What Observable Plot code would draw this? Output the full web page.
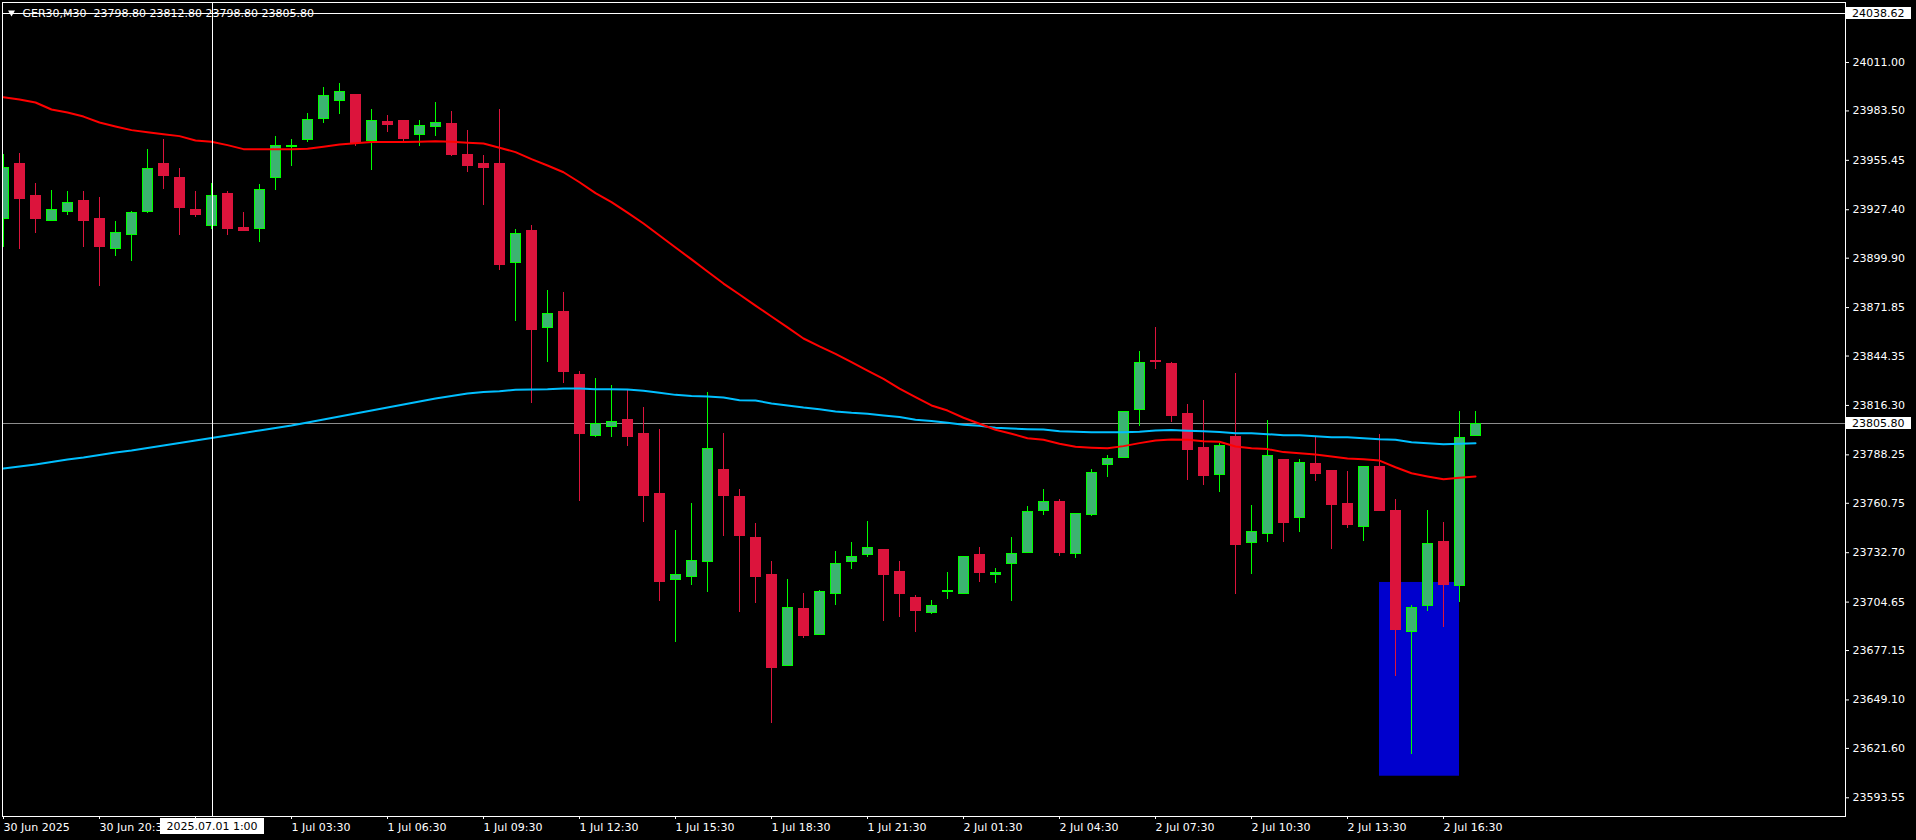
<!DOCTYPE html>
<html><head><meta charset="utf-8">
<script src="https://cdn.jsdelivr.net/npm/d3@7"></script>
<script src="https://cdn.jsdelivr.net/npm/@observablehq/plot@0.6"></script>
<style>html,body{margin:0;padding:0;background:#000;overflow:hidden}</style>
</head><body><div id="chart"></div>
<script>
const headerText = "GER30,M30\u00A0\u00A023798.80 23812.80 23798.80 23805.80";
const opens = [23922.1,23953.5,23935.3,23920.9,23926.0,23932.5,23922.4,23905.0,23913.2,23926.0,
23953.5,23945.5,23927.4,23918.1,23936.4,23917.1,23916.4,23945.3,23963.0,23966.9,
23978.8,23989.0,23992.8,23966.3,23977.0,23977.9,23969.7,23974.3,23975.8,23958.2,
23953.1,23953.1,23897.1,23915.6,23860.2,23869.6,23833.3,23798.9,23804.0,23808.1,
23800.2,23766.1,23717.3,23718.8,23727.3,23779.4,23764.6,23741.3,23720.3,23668.3,
23700.5,23685.9,23709.2,23727.3,23731.5,23734.3,23721.5,23706.7,23698.4,23710.3,
23709.3,23731.5,23719.9,23726.4,23732.6,23756.5,23761.2,23732.1,23754.2,23782.6,
23786.6,23813.8,23841.6,23839.9,23811.5,23791.9,23776.9,23798.1,23738.3,23743.4,
23785.6,23752.3,23782.8,23778.8,23760.6,23747.4,23781.6,23756.1,23687.6,23702.3,
23738.9,23713.7,23798.8];
const highs = [23958.8,23959.2,23942.1,23938.3,23937.8,23937.8,23934.4,23920.5,23926.2,23961.6,
23967.3,23950.6,23937.8,23942.1,23937.6,23925.7,23941.6,23969.0,23967.3,23982.1,
23996.8,23999.1,23992.8,23984.3,23980.9,23977.9,23977.9,23988.3,23983.2,23972.4,
23958.2,23984.3,23916.2,23918.5,23881.6,23880.4,23835.6,23831.6,23827.6,23824.8,
23815.1,23802.6,23745.3,23760.6,23823.6,23800.4,23768.6,23749.3,23727.7,23717.5,
23709.5,23711.2,23733.4,23738.5,23750.4,23734.3,23727.7,23708.6,23705.6,23721.5,
23730.3,23735.6,23723.7,23741.3,23759.0,23768.6,23762.9,23754.8,23779.9,23787.9,
23812.7,23846.9,23860.6,23840.7,23816.8,23819.1,23794.5,23834.4,23759.5,23807.8,
23785.6,23785.6,23798.9,23778.8,23778.8,23781.1,23799.8,23762.9,23702.7,23756.7,
23749.8,23812.9,23812.8];
const lows = [23906.2,23905.0,23914.1,23920.9,23924.3,23906.2,23884.0,23901.1,23898.2,23925.5,
23939.1,23913.0,23923.2,23916.4,23913.0,23915.3,23909.0,23938.5,23952.2,23965.8,
23976.6,23981.7,23963.3,23949.7,23971.5,23966.3,23963.5,23969.2,23957.8,23948.8,
23929.8,23892.9,23864.2,23817.2,23840.9,23828.9,23761.8,23798.3,23798.3,23793.0,
23750.0,23705.2,23681.9,23714.3,23710.3,23742.1,23698.9,23704.1,23635.9,23668.3,
23684.2,23685.9,23702.9,23723.3,23730.2,23693.8,23696.1,23687.6,23697.8,23706.3,
23709.3,23716.0,23715.4,23705.2,23732.6,23754.0,23730.7,23729.6,23753.4,23775.6,
23786.6,23804.5,23836.9,23806.8,23773.7,23771.0,23767.1,23709.2,23720.5,23738.7,
23738.7,23744.4,23773.3,23734.7,23746.6,23739.2,23756.3,23662.6,23618.3,23699.5,
23690.2,23704.6,23798.8];
const closes = [23951.2,23933.4,23922.1,23927.4,23931.3,23920.9,23906.2,23914.3,23925.6,23950.6,
23946.5,23928.3,23924.3,23935.3,23916.4,23915.3,23938.7,23963.7,23963.7,23978.5,
23992.1,23994.4,23965.2,23977.9,23975.4,23967.5,23975.0,23976.8,23958.2,23952.1,
23951.0,23895.8,23913.4,23859.1,23868.3,23835.2,23800.0,23805.5,23807.0,23798.1,
23764.8,23716.0,23720.1,23728.1,23791.7,23764.8,23742.1,23718.8,23667.1,23701.4,
23685.3,23710.5,23726.4,23730.4,23735.5,23720.0,23709.2,23699.5,23702.2,23710.7,
23730.3,23721.1,23721.3,23732.1,23755.9,23761.6,23732.4,23754.8,23778.1,23786.0,
23812.7,23840.5,23840.9,23810.2,23790.9,23776.1,23793.4,23737.0,23744.5,23787.7,
23749.5,23783.7,23777.3,23759.7,23748.3,23781.1,23756.3,23688.7,23701.4,23737.7,
23714.3,23797.9,23805.8];
const maRed = [23991.3,23990.0,23988.3,23984.3,23982.6,23980.3,23976.9,23974.7,23972.6,23971.4,
23970.3,23969.2,23966.7,23966.0,23964.1,23961.8,23961.8,23961.8,23961.8,23962.0,
23963.1,23964.4,23965.2,23965.8,23965.8,23965.8,23966.0,23966.3,23966.0,23965.4,
23965.0,23962.6,23960.1,23956.1,23952.5,23948.7,23943.0,23936.8,23931.7,23925.8,
23919.6,23912.8,23906.0,23899.2,23892.3,23885.5,23879.3,23873.0,23866.8,23860.6,
23854.3,23849.8,23845.6,23840.9,23836.1,23831.4,23825.9,23821.0,23816.3,23813.4,
23809.3,23805.9,23802.5,23800.2,23797.7,23796.8,23794.5,23792.8,23792.3,23792.0,
23793.2,23794.9,23796.4,23797.0,23796.8,23796.0,23795.7,23793.0,23792.0,23791.5,
23789.8,23789.2,23788.4,23787.3,23786.2,23785.8,23785.0,23781.2,23777.8,23776.0,
23774.4,23775.2,23776.0];
const maBlue = [23780.5,23781.6,23782.8,23784.2,23785.6,23786.7,23788.2,23789.6,23790.7,23792.1,
23793.6,23795.0,23796.4,23797.8,23799.2,23800.7,23802.1,23803.5,23804.9,23806.6,
23808.3,23810.0,23811.7,23813.4,23815.1,23816.8,23818.5,23820.2,23821.7,23823.1,
23823.9,23824.4,23825.2,23825.4,23825.5,23825.9,23825.9,23825.5,23825.5,23825.4,
23824.6,23823.5,23822.3,23821.6,23821.4,23820.8,23819.3,23819.1,23817.4,23816.3,
23815.1,23814.2,23812.9,23812.1,23811.6,23810.6,23809.7,23808.2,23807.4,23806.5,
23805.3,23804.7,23803.6,23803.2,23802.8,23802.6,23801.7,23801.3,23801.1,23801.1,
23801.1,23801.3,23802.1,23802.3,23801.9,23801.7,23801.2,23800.5,23800.5,23800.0,
23799.4,23799.4,23798.8,23798.3,23798.3,23797.7,23797.1,23796.8,23795.4,23794.9,
23794.3,23794.5,23794.9];
const priceTicks = [24011.00,23983.50,23955.45,23927.40,23899.90,23871.85,23844.35,23816.30,
23788.25,23760.75,23732.70,23704.65,23677.15,23649.10,23621.60,23593.55];
const timeTickBars = [0,6,12,18,24,30,36,42,48,54,60,66,72,78,84,90];
const timeTickLabels = ["30 Jun 2025","30 Jun 20:30","1 Jul 00:30","1 Jul 03:30","1 Jul 06:30","1 Jul 09:30",
"1 Jul 12:30","1 Jul 15:30","1 Jul 18:30","1 Jul 21:30","2 Jul 01:30","2 Jul 04:30","2 Jul 07:30",
"2 Jul 10:30","2 Jul 13:30","2 Jul 16:30"];
const zoneBars = [86, 91];
const zonePrices = [23715.8, 23605.8];
const crossBar = 13;
const crossPrice = 24038.62;
const crossTime = "2025.07.01 1:00";

const candles = opens.map((o, i) => ({i, o, h: highs[i], l: lows[i], c: closes[i]}));
const up = candles.filter(d => d.c >= d.o);
const down = candles.filter(d => d.c < d.o);
const redLine = maRed.map((v, i) => ({i, v}));
const blueLine = maBlue.map((v, i) => ({i, v}));
const lastClose = closes[closes.length - 1];
const tickLabel = new Map(timeTickBars.map((b, k) => [b, timeTickLabels[k]]));

const W = 1916, H = 840, mL = 2, mR = 71, mT = 2, mB = 24, barPx = 16;
const x0 = -1 / barPx;
const FONT = "DejaVu Sans";
const half = 5 / barPx;

function labelBoxes(index, scales, values, dims) {
  const g = d3.create("svg:g").attr("font-family", FONT).attr("font-size", 11);
  const rx = dims.width - dims.marginRight + 1;
  for (const p of [lastClose, crossPrice]) {
    const yy = Math.round(scales.y(p));
    g.append("rect").attr("x", rx).attr("y", yy - 6).attr("width", 65).attr("height", 12).attr("fill", "white");
    g.append("text").attr("x", rx + 6).attr("y", yy).attr("dy", "0.36em")
      .attr("text-anchor", "start").attr("fill", "black").text(p.toFixed(2));
  }
  const xx = Math.round(scales.x(crossBar)) + 1;
  const by = dims.height - dims.marginBottom + 2;
  g.append("rect").attr("x", xx - 52).attr("y", by).attr("width", 104).attr("height", 16).attr("fill", "white");
  g.append("text").attr("x", xx).attr("y", by + 8).attr("dy", "0.36em").attr("text-anchor", "middle").attr("fill", "black").text(crossTime);
  return g.node();
}

const chart = Plot.plot({
  width: W, height: H,
  marginLeft: mL, marginRight: mR, marginTop: mT, marginBottom: mB,
  style: {background: "#000", color: "white", fontFamily: FONT, fontSize: "11px"},
  x: {type: "linear", domain: [x0, x0 + (W - mL - mR) / barPx], axis: null},
  y: {domain: [23582.93, 24045.06], axis: null},
  marks: [
    Plot.rect([{b0: zoneBars[0], b1: zoneBars[1], p0: zonePrices[0], p1: zonePrices[1]}],
      {x1: "b0", x2: "b1", y1: "p0", y2: "p1", fill: "#0000CD"}),
    Plot.ruleY([lastClose], {stroke: "#8c8c8c", shapeRendering: "crispEdges"}),
    Plot.ruleX(down, {x: "i", y1: "l", y2: "h", stroke: "#DC143C", clip: true, shapeRendering: "crispEdges"}),
    Plot.ruleX(up, {x: "i", y1: "l", y2: "h", stroke: "#00FF00", clip: true, shapeRendering: "crispEdges"}),
    Plot.rect(down, {x1: d => d.i - half, x2: d => d.i + half, y1: "o", y2: "c", fill: "#DC143C", stroke: "#DC143C", clip: true, shapeRendering: "crispEdges"}),
    Plot.rect(up, {x1: d => d.i - half, x2: d => d.i + half, y1: "o", y2: "c", fill: "#3CB371", stroke: "#00FF00", clip: true, shapeRendering: "crispEdges"}),
    Plot.line(blueLine, {x: "i", y: "v", stroke: "#00BFFF", strokeWidth: 2, clip: true}),
    Plot.line(redLine, {x: "i", y: "v", stroke: "#FF0000", strokeWidth: 2, clip: true}),
    Plot.ruleX([crossBar], {stroke: "white", dx: 1, shapeRendering: "crispEdges"}),
    Plot.ruleY([crossPrice], {stroke: "white", shapeRendering: "crispEdges"}),
    Plot.dot([0], {frameAnchor: "top-left", dx: 9, dy: 10, symbol: "triangle", r: 2.6, rotate: 180, fill: "white", stroke: null}),
    Plot.text([headerText], {frameAnchor: "top-left", dx: 20, dy: 6.5, text: d => d, fill: "white", textAnchor: "start", lineAnchor: "top", fontSize: 11}),
    Plot.axisY({anchor: "right", ticks: priceTicks, tickFormat: d => d.toFixed(2), tickSize: 3, tickPadding: 4, label: null, fontSize: 11}),
    Plot.axisX({anchor: "bottom", ticks: timeTickBars, tickFormat: d => tickLabel.get(d), tickSize: 3, tickPadding: 4, textAnchor: "start", label: null, fontSize: 11}),
    Plot.frame({stroke: "white", shapeRendering: "crispEdges"}),
    labelBoxes
  ]
});
document.getElementById("chart").appendChild(chart);
</script>
</body></html>
